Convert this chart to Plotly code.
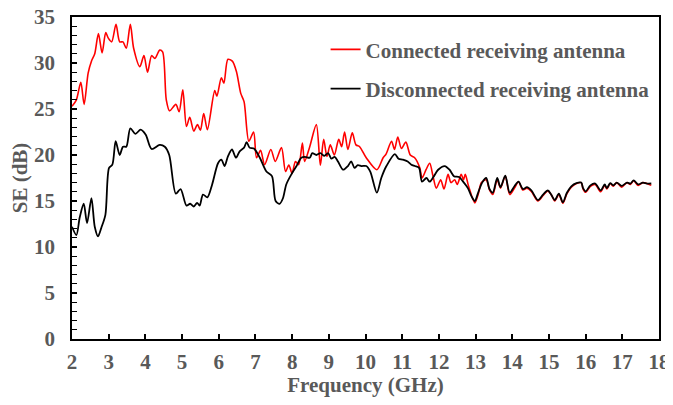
import plotly.graph_objects as go

# Connected receiving antenna (red)
freq_connected = [2.00, 2.12, 2.24, 2.33, 2.44, 2.53, 2.62, 2.72, 2.82, 2.92, 2.99, 3.08, 3.20, 3.30, 3.39, 3.48,
                  3.59, 3.68, 3.85, 3.96, 4.06, 4.17, 4.26, 4.39, 4.47, 4.57, 4.66, 4.83, 4.92, 5.02, 5.12, 5.21,
                  5.32, 5.42, 5.50, 5.59, 5.69, 5.89, 5.95, 6.07, 6.14, 6.25, 6.37, 6.48, 6.60, 6.69, 6.82, 6.95,
                  7.03, 7.14, 7.25, 7.42, 7.54, 7.71, 7.82, 7.91, 8.00, 8.09, 8.18, 8.28, 8.34, 8.48, 8.66, 8.77,
                  8.86, 8.95, 9.04, 9.15, 9.27, 9.35, 9.43, 9.52, 9.64, 9.74, 9.84, 10.02, 10.31, 10.48, 10.56,
                  10.71, 10.79, 10.88, 10.98, 11.10, 11.22, 11.34, 11.48, 11.54, 11.65, 11.75, 11.84, 11.93, 12.05,
                  12.14, 12.25, 12.33, 12.43, 12.50, 12.61, 12.67, 12.72, 12.81, 12.98, 13.07, 13.16, 13.29, 13.38,
                  13.47, 13.59, 13.68, 13.81, 13.93, 14.06, 14.17, 14.29, 14.40, 14.52, 14.70, 14.84, 14.97, 15.06,
                  15.16, 15.27, 15.38, 15.49, 15.61, 15.75, 15.88, 15.93, 16.00, 16.13, 16.26, 16.41, 16.52, 16.58,
                  16.67, 16.75, 16.85, 16.98, 17.13, 17.22, 17.31, 17.43, 17.56, 17.67, 17.79]
se_connected = [25.3, 26.0, 27.9, 25.5, 28.9, 30.2, 31.0, 33.2, 31.1, 33.3, 32.7, 32.3, 34.2, 32.3, 32.3, 31.6,
                34.2, 31.6, 29.6, 30.8, 29.0, 30.8, 30.5, 31.4, 31.2, 26.0, 24.8, 25.5, 24.7, 27.1, 23.1, 24.1,
                22.6, 23.3, 22.7, 24.5, 22.75, 27.0, 26.4, 28.4, 27.8, 30.4, 30.2, 29.1, 26.7, 25.8, 21.5, 22.5,
                19.7, 20.5, 18.95, 20.6, 19.3, 20.8, 18.2, 18.9, 18.0, 19.3, 18.95, 21.3, 19.3, 20.9, 23.3, 18.9,
                21.7, 19.85, 21.1, 20.0, 21.7, 20.9, 22.5, 20.6, 22.4, 21.1, 20.9, 19.7, 18.4, 19.7, 20.1,
                21.5, 20.6, 21.95, 20.7, 21.4, 20.0, 19.7, 18.6, 17.5, 18.4, 19.1, 17.7, 16.4, 17.3,
                16.3, 17.9, 17.0, 17.3, 16.8, 17.9, 17.3, 17.9, 16.6, 14.8, 15.7, 17.0, 17.3, 16.2,
                15.7, 17.3, 16.4, 17.7, 15.7, 16.4, 17.1, 16.2, 16.4, 16.05, 15.0, 15.6, 16.1, 15.7,
                15.0, 15.7, 14.75, 15.8, 16.5, 16.9, 17.0, 16.3, 15.95, 16.6, 16.8, 16.0, 16.7, 16.3,
                16.9, 16.6, 17.0, 16.5, 17.0, 16.8, 17.2, 16.7, 17.0, 16.9, 16.7]

# Disconnected receiving antenna (black)
freq_disconnected = [2.00, 2.12, 2.21, 2.32, 2.41, 2.53, 2.62, 2.71, 2.80, 2.91, 3.01, 3.10, 3.19, 3.30, 3.39, 3.48,
                     3.59, 3.73, 3.87, 4.01, 4.17, 4.39, 4.53, 4.65, 4.83, 4.96, 5.12, 5.22, 5.32, 5.41, 5.48,
                     5.57, 5.69, 5.82, 5.98, 6.07, 6.16, 6.25, 6.36, 6.47, 6.57, 6.69, 6.76, 6.84, 6.96, 7.12,
                     7.30, 7.45, 7.55, 7.66, 7.75, 7.84, 7.98, 8.12, 8.25, 8.35, 8.48, 8.55, 8.66, 8.77, 8.88,
                     8.98, 9.07, 9.16, 9.25, 9.39, 9.52, 9.61, 9.70, 9.79, 9.89, 10.02, 10.13, 10.31, 10.43,
                     10.57, 10.80, 10.90, 11.02, 11.15, 11.25, 11.35, 11.46, 11.54, 11.66, 11.75, 11.85, 11.98,
                     12.16, 12.29, 12.41, 12.55, 12.66, 12.79, 12.89, 12.98, 13.07, 13.18, 13.29, 13.38, 13.47,
                     13.59, 13.68, 13.81, 13.93, 14.06, 14.17, 14.29, 14.40, 14.52, 14.70, 14.84, 14.97, 15.06,
                     15.16, 15.27, 15.38, 15.49, 15.61, 15.75, 15.88, 15.93, 16.00, 16.13, 16.26, 16.41, 16.52,
                     16.58, 16.67, 16.75, 16.85, 16.98, 17.13, 17.22, 17.31, 17.43, 17.56, 17.67, 17.79]
se_disconnected = [12.2, 11.3, 13.2, 14.7, 12.6, 15.3, 12.2, 11.15, 12.1, 13.5, 18.6, 18.95, 21.5, 20.0, 20.9, 20.9,
                   22.9, 22.3, 22.75, 22.2, 20.65, 21.1, 20.9, 20.0, 15.8, 16.3, 14.5, 14.7, 14.4, 14.8, 14.5,
                   15.7, 15.4, 16.8, 19.1, 19.5, 18.8, 19.85, 20.6, 19.7, 20.4, 20.8, 21.4, 20.8, 20.7, 19.7,
                   18.2, 17.7, 15.0, 14.7, 15.3, 16.8, 17.9, 18.8, 19.7, 19.8, 19.7, 20.2, 20.0, 20.2, 19.9,
                   20.2, 19.6, 19.8, 19.3, 18.4, 18.8, 19.3, 18.6, 18.9, 18.8, 18.8, 18.2, 15.9, 17.5,
                   18.8, 20.1, 19.6, 19.5, 19.3, 18.95, 18.8, 18.6, 17.1, 17.5, 17.1, 17.6, 18.4,
                   18.8, 18.4, 17.7, 17.6, 17.1, 16.4, 15.5, 15.0, 15.9, 17.0, 17.5, 16.3, 15.9,
                   17.5, 16.5, 17.75, 15.9, 16.6, 17.1, 16.3, 16.5, 16.15, 15.1, 15.7, 16.15, 15.7,
                   15.1, 15.8, 14.85, 15.9, 16.6, 16.95, 17.0, 16.4, 16.05, 16.7, 16.9, 16.15, 16.8,
                   16.4, 16.95, 16.7, 17.0, 16.65, 17.0, 16.9, 17.25, 16.8, 17.0, 16.9, 16.9]

series_names = ["Connected receiving antenna", "Disconnected receiving antenna"]
x_ticks = list(range(2, 19))
y_ticks = list(range(0, 36, 5))

FONT = "Liberation Serif"
GRAY = "#595959"
FS = 21
BOLD = dict(family=FONT, size=FS, color=GRAY, weight="bold")

fig = go.Figure()
fig.add_trace(go.Scatter(x=freq_connected, y=se_connected, mode="lines", name=series_names[0],
                         line=dict(color="#ff0000", width=1.6, shape="spline", smoothing=0.8),
                         legendgroup="a"))
fig.add_trace(go.Scatter(x=freq_disconnected, y=se_disconnected, mode="lines", name=series_names[1],
                         line=dict(color="#000000", width=1.8, shape="spline", smoothing=0.8),
                         legendgroup="b"))

# page body has an 8px default margin; size the figure so the page does not overflow the window
fig.update_layout(
    width=665, height=389,
    margin=dict(l=64, r=14, t=9, b=58, autoexpand=False),
    paper_bgcolor="white", plot_bgcolor="white",
    font=dict(family=FONT, size=FS, color=GRAY),
    showlegend=True,
    legend=dict(x=0.432, y=0.962, xanchor="left", yanchor="top",
                bgcolor="rgba(0,0,0,0)", font=BOLD,
                tracegroupgap=9, traceorder="grouped", itemwidth=30),
)
fig.update_xaxes(
    range=[2, 18], tickvals=x_ticks, ticktext=[str(v) for v in x_ticks],
    showgrid=False, zeroline=False, automargin=False,
    showline=True, linecolor="black", linewidth=1.5, mirror=True,
    ticks="inside", ticklen=5, tickcolor="black", tickwidth=1.5,
    tickfont=BOLD, ticklabelstandoff=3, ticklabeloverflow="allow",
    title=dict(text="Frequency (GHz)", font=BOLD, standoff=10),
)
fig.update_yaxes(
    range=[0, 35], tickvals=y_ticks, ticktext=[str(v) for v in y_ticks],
    showgrid=False, zeroline=False, automargin=False,
    showline=True, linecolor="black", linewidth=1.5, mirror=True,
    ticks="inside", ticklen=5, tickcolor="black", tickwidth=1.5,
    minor=dict(dtick=1, ticks="inside", ticklen=5, tickcolor="black", tickwidth=1.2, showgrid=False),
    tickfont=BOLD, ticklabelstandoff=11, ticklabeloverflow="allow",
    title=dict(text="SE (dB)", font=BOLD, standoff=10),
)

fig.write_html("out.html")
